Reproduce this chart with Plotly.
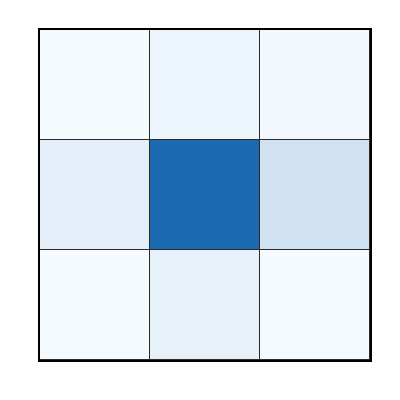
import plotly.graph_objects as go

rows = ["top", "middle", "bottom"]
cols = ["left", "center", "right"]
values = [
    [0.01, 0.05, 0.02],
    [0.09, 0.78, 0.20],
    [0.01, 0.08, 0.01],
]

blues = [
    [0.0, "#f7fbff"], [0.125, "#deebf7"], [0.25, "#c6dbef"], [0.375, "#9ecae1"],
    [0.5, "#6baed6"], [0.625, "#4292c6"], [0.75, "#2171b5"], [0.875, "#08519c"],
    [1.0, "#08306b"],
]

fig = go.Figure(go.Heatmap(
    z=values, x=cols, y=rows, colorscale=blues, zmin=0, zmax=1,
    showscale=False, xgap=1, ygap=1, hoverinfo="skip",
))

fig.update_layout(
    width=400, height=400,
    margin=dict(l=40, r=30, t=30, b=40),
    paper_bgcolor="white", plot_bgcolor="#2a2a2a",
)
fig.update_xaxes(showticklabels=False, ticks="", showgrid=False, zeroline=False,
                 showline=True, linecolor="black", linewidth=2, mirror=True)
fig.update_yaxes(showticklabels=False, ticks="", showgrid=False, zeroline=False,
                 autorange="reversed",
                 showline=True, linecolor="black", linewidth=2, mirror=True)

fig.write_html("out.html")
